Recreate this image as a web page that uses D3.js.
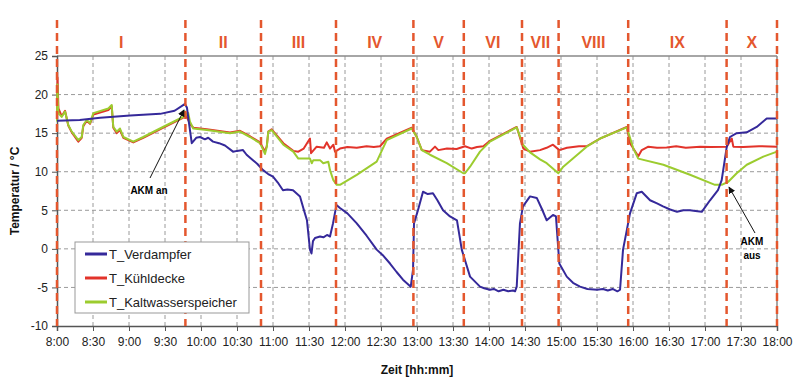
<!DOCTYPE html>
<html>
<head>
<meta charset="utf-8">
<script src="https://cdn.jsdelivr.net/npm/d3@7"></script>
<style>
  body { margin: 0; background: #fff; }
  svg { display: block; font-family: Arial, "Liberation Sans", sans-serif; }
</style>
</head>
<body>
<svg></svg>
<script>
// minutes after 8:00, temperature in °C
let verdampfer = [
  [0,16.6],[19,16.7],[36,17.0],[61,17.3],[86,17.5],[98,17.9],[106.7,18.8],[108.3,18.3],[110,16.3],
  [112.3,13.7],[116,14.4],[119.2,14.5],[123.3,14.2],[126,14.4],[130,13.9],[135,13.7],[140,13.4],
  [146.7,12.6],[150,12.7],[155,12.8],[158,12.2],[163.3,11.5],[167,11.0],[171.7,10.2],[176,9.7],
  [180,9.35],[184,8.6],[188.3,7.6],[192,7.7],[196.7,7.6],[202.5,6.8],[205.8,5.0],[208.3,3.7],
  [210.8,-0.1],[212.1,-0.6],[213.3,1.0],[215,1.4],[219.2,1.6],[222,1.5],[225,1.8],[227.5,1.6],
  [230,3.3],[232.9,5.7],[235.8,5.3],[242,4.6],[249.8,3.3],[258,1.7],[266.4,-0.1],[272,-0.9],
  [277.5,-1.9],[283,-3.0],[288.3,-4.0],[294.8,-4.9],[296.7,-2.7],[297.5,3.3],[300.8,5.0],
  [305,7.4],[309,7.1],[313.3,7.2],[317,6.3],[321.7,5.0],[327.5,4.2],[333.3,3.7],[337.3,-0.1],
  [344.2,-3.6],[352.5,-4.9],[356,-5.1],[360.8,-5.3],[364,-5.2],[368,-5.5],[372,-5.3],[376,-5.5],
  [380,-5.4],[381.7,-5.5],[383.1,-4.9],[385.8,3.3],[388.3,5.5],[394.2,6.8],[399.8,6.6],
  [404,5.2],[408.1,3.7],[413.3,4.4],[415.8,4.2],[418.6,-1.9],[424.8,-3.6],[430,-4.4],
  [435.8,-4.9],[442,-5.2],[450,-5.3],[455,-5.2],[459,-5.4],[463,-5.2],[467,-5.5],[469.2,-5.3],
  [471.7,-0.1],[474.8,2.4],[477.5,4.6],[483.1,7.2],[487.3,7.4],[494.2,6.3],[500,5.9],[505,5.5],
  [511,5.1],[516.7,4.8],[522,5.0],[527.5,5.0],[532,4.9],[537.3,4.8],[544.2,6.3],[550.8,7.6],
  [553.9,8.9],[558.1,13.2],[560.8,14.5],[566.4,15.0],[574.8,15.1],[583.1,15.8],[591.4,16.9],[600,16.9]
]

let kuehldecke = [
  [0,17.0],[0.4,22.2],[1.2,18.2],[3.9,17.2],[6.7,17.9],[9.4,16.0],[12.3,15.1],[17.8,13.9],
  [20.6,14.4],[21.9,15.9],[24.8,16.6],[27.5,16.2],[30.3,17.4],[42.8,18.0],[45.6,18.5],[46.9,15.7],
  [49.8,15.0],[52.5,15.4],[55.3,14.4],[63.6,13.8],[71.9,14.4],[85.8,15.5],[102.5,16.8],
  [105.3,17.0],[106.7,17.6],[108.1,17.1],[110.8,16.2],[113.6,15.7],[124.8,15.5],[144.2,15.1],
  [152.5,15.3],[160.8,14.6],[169.2,13.8],[171.9,13.0],[173.3,12.7],[174.8,13.3],[176.1,15.2],
  [178.9,15.5],[188.6,13.7],[196.9,12.7],[201.1,12.6],[205.6,13.0],[210.8,14.3],[211.7,12.4],
  [216.4,13.25],[222.5,13.1],[224.8,13.8],[227.5,13.0],[230.3,13.5],[231.7,12.6],[235.8,13.0],
  [242,13.2],[249.8,13.1],[258,13.3],[264,13.2],[269.2,13.3],[274.8,14.3],[295.6,15.7],
  [299.8,14.5],[304,12.8],[310.8,12.6],[315,13.25],[317.8,12.8],[325,13.0],[333,12.95],
  [340,13.3],[345.6,13.0],[350,13.2],[355.3,13.3],[360.8,14.0],[383.1,15.8],[388.6,13.0],
  [394.2,12.6],[402.5,12.8],[408,13.1],[413.3,13.5],[418.6,12.8],[425,13.1],[430,13.2],
  [435,13.3],[441.4,13.3],[452.5,14.3],[474.8,15.8],[477.5,13.7],[484.4,12.0],[487.3,12.8],
  [492.8,13.25],[500,13.1],[508,13.15],[516,13.3],[524,13.1],[536,13.25],[545,13.2],
  [558.1,13.25],[562.3,14.3],[563.6,13.25],[572,13.2],[585,13.3],[600,13.25]
]

let kaltwasser = [
  [0,16.5],[0.3,21.3],[1.1,17.6],[3.9,17.1],[6.7,17.8],[9.4,16.05],[12.3,15.2],[17.8,14.1],
  [20.6,14.5],[21.9,16.05],[24.8,16.7],[27.5,16.3],[30.3,17.6],[42.8,18.2],[45.6,18.65],
  [46.9,15.8],[49.8,15.2],[52.5,15.6],[55.3,14.5],[63.6,13.9],[71.9,14.5],[85.8,15.6],
  [102.5,16.9],[105.3,17.1],[106.7,17.8],[108.1,17.35],[109.4,17.6],[110.8,16.5],[113.6,15.6],
  [124.8,15.4],[144.2,15.0],[152.5,15.2],[160.8,14.5],[169.2,13.7],[171.9,12.8],[173.3,12.3],
  [174.8,13.2],[176.1,15.2],[178.9,15.4],[188.6,13.5],[196.9,12.6],[201.1,11.7],[210.8,11.7],
  [212.3,11.1],[213.6,11.5],[219.2,11.5],[221.9,11.1],[226.1,11.3],[227.5,10.2],[230.3,8.9],
  [233.1,8.3],[235.8,8.3],[249.8,9.6],[266.4,11.3],[274.8,14.1],[295.6,15.6],[299.8,14.5],
  [304,12.8],[310.8,12.2],[324.8,11.1],[338.6,9.8],[340,9.8],[344.2,10.65],[352.5,12.6],
  [360.8,13.9],[383.1,15.75],[388.3,13.5],[394.2,12.5],[402.5,11.6],[408.1,11.1],[417.8,9.8],
  [421.9,10.65],[441.4,13.25],[452.5,14.3],[474.8,15.75],[480.3,13.0],[484.4,11.7],[505.3,10.9],
  [527.5,9.6],[548.3,8.3],[553.9,8.3],[559.4,8.7],[566.4,9.8],[574.8,10.9],[588.6,11.95],[600,12.6]
]

let seriesNames = ['T_Verdampfer', 'T_Kühldecke', 'T_Kaltwasserspeicher']
let seriesColors = ['#35299a', '#e2332a', '#9ccc2f']

let phaseBounds = [0, 107, 170, 232.5, 297, 339, 387.5, 418, 476, 558, 600]
let phaseNames = ['I', 'II', 'III', 'IV', 'V', 'VI', 'VII', 'VIII', 'IX', 'X']

let timeTicks = d3.range(0, 601, 30)
let timeLabels = ['8:00','8:30','9:00','9:30','10:00','10:30','11:00','11:30','12:00','12:30',
                  '13:00','13:30','14:00','14:30','15:00','15:30','16:00','16:30','17:00','17:30','18:00']
let tempTicks = [-10, -5, 0, 5, 10, 15, 20, 25]

let width = 800
let height = 388
let padLeft = 57, padRight = 777, padTop = 56, padBottom = 326

let svg = d3.select('svg').attr('width', width).attr('height', height)

let xScale = d3.scaleLinear().domain([0, 600]).range([padLeft, padRight])
let yScale = d3.scaleLinear().domain([-10, 25]).range([padBottom, padTop])

// grid
svg.append('g')
   .selectAll('line')
   .data(timeTicks.slice(1, -1))
   .enter()
   .append('line')
   .attr('x1', d => xScale(d)).attr('x2', d => xScale(d))
   .attr('y1', padTop).attr('y2', padBottom)
   .attr('stroke', '#9a9a9a').attr('stroke-width', 1).attr('stroke-dasharray', '4,3')

svg.append('g')
   .selectAll('line')
   .data(tempTicks.slice(1, -1))
   .enter()
   .append('line')
   .attr('x1', padLeft).attr('x2', padRight)
   .attr('y1', d => yScale(d)).attr('y2', d => yScale(d))
   .attr('stroke', '#9a9a9a').attr('stroke-width', 1).attr('stroke-dasharray', '4,3')

svg.append('line')
   .attr('x1', padLeft).attr('x2', padRight).attr('y1', yScale(25)).attr('y2', yScale(25))
   .attr('stroke', '#888').attr('stroke-width', 1.5)
svg.append('line')
   .attr('x1', padRight).attr('x2', padRight).attr('y1', padTop).attr('y2', padBottom)
   .attr('stroke', '#888').attr('stroke-width', 1.5)

// axes
let xAxis = d3.axisBottom(xScale)
              .tickValues(timeTicks)
              .tickFormat((d, i) => timeLabels[i])
              .tickSize(5).tickPadding(6)
let yAxis = d3.axisLeft(yScale)
              .tickValues(tempTicks)
              .tickFormat(d => String(d))
              .tickSize(5).tickPadding(4)

let gx = svg.append('g').attr('transform', 'translate(0,' + padBottom + ')').call(xAxis)
let gy = svg.append('g').attr('transform', 'translate(' + padLeft + ',0)').call(yAxis)
;[gx, gy].forEach(g => {
  g.select('.domain').attr('stroke', '#555').attr('stroke-width', 1.5)
  g.selectAll('.tick line').attr('stroke', '#555')
  g.selectAll('.tick text').attr('font-size', 12).attr('fill', '#222')
    .attr('font-family', 'Arial, "Liberation Sans", sans-serif')
})

// series
let line = d3.line().x(d => xScale(d[0])).y(d => yScale(d[1]))
;[[kuehldecke, 1], [kaltwasser, 2], [verdampfer, 0]].forEach(s => {
  svg.append('path').datum(s[0])
     .attr('d', line)
     .attr('fill', 'none').attr('stroke', seriesColors[s[1]]).attr('stroke-width', 2)
     .attr('stroke-linejoin', 'round')
})

// phase boundaries
svg.append('g')
   .selectAll('line')
   .data(phaseBounds)
   .enter()
   .append('line')
   .attr('x1', d => xScale(d)).attr('x2', d => xScale(d))
   .attr('y1', 20).attr('y2', padBottom)
   .attr('stroke', '#e4572e').attr('stroke-width', 2.5).attr('stroke-dasharray', '8,5')

svg.append('g')
   .selectAll('text')
   .data(phaseNames)
   .enter()
   .append('text')
   .attr('x', (d, i) => xScale((phaseBounds[i] + phaseBounds[i + 1]) / 2))
   .attr('y', 48)
   .attr('text-anchor', 'middle')
   .attr('font-size', 16).attr('font-weight', 'bold').attr('fill', '#e4572e')
   .text(d => d)

// annotations
svg.append('defs').append('marker')
   .attr('id', 'arrow').attr('viewBox', '0 0 10 10')
   .attr('refX', 9).attr('refY', 5)
   .attr('markerWidth', 7).attr('markerHeight', 7)
   .attr('orient', 'auto')
   .append('path').attr('d', 'M0,0 L10,5 L0,10 z').attr('fill', '#111')

svg.append('line')
   .attr('x1', 150).attr('y1', 178).attr('x2', 184).attr('y2', 110)
   .attr('stroke', '#111').attr('stroke-width', 1).attr('marker-end', 'url(#arrow)')
svg.append('text').attr('x', 149).attr('y', 194).attr('text-anchor', 'middle')
   .attr('font-size', 10).attr('font-weight', 'bold').text('AKM an')

svg.append('line')
   .attr('x1', 755).attr('y1', 233).attr('x2', 729).attr('y2', 187)
   .attr('stroke', '#111').attr('stroke-width', 1).attr('marker-end', 'url(#arrow)')
svg.append('text').attr('x', 752).attr('y', 245).attr('text-anchor', 'middle')
   .attr('font-size', 10).attr('font-weight', 'bold').text('AKM')
svg.append('text').attr('x', 752).attr('y', 259).attr('text-anchor', 'middle')
   .attr('font-size', 10).attr('font-weight', 'bold').text('aus')

// axis titles
svg.append('text')
   .attr('transform', 'translate(19,' + ((padTop + padBottom) / 2) + ') rotate(-90)')
   .attr('text-anchor', 'middle')
   .attr('font-size', 12).attr('font-weight', 'bold').attr('fill', '#111')
   .text('Temperatur / °C')
svg.append('text')
   .attr('x', (padLeft + padRight) / 2).attr('y', 374)
   .attr('text-anchor', 'middle')
   .attr('font-size', 12).attr('font-weight', 'bold').attr('fill', '#111')
   .text('Zeit [hh:mm]')

// legend
let legend = svg.append('g')
legend.append('rect')
      .attr('x', 75).attr('y', 242).attr('width', 174).attr('height', 71)
      .attr('fill', '#fff').attr('stroke', '#999').attr('stroke-width', 1)
seriesNames.forEach((name, i) => {
  let y = 254 + i * 24
  legend.append('line')
        .attr('x1', 85).attr('x2', 107).attr('y1', y).attr('y2', y)
        .attr('stroke', seriesColors[i]).attr('stroke-width', 3)
  legend.append('text')
        .attr('x', 109).attr('y', y + 5)
        .attr('font-size', 13).attr('fill', '#222')
        .text(name)
})
</script>
</body>
</html>
